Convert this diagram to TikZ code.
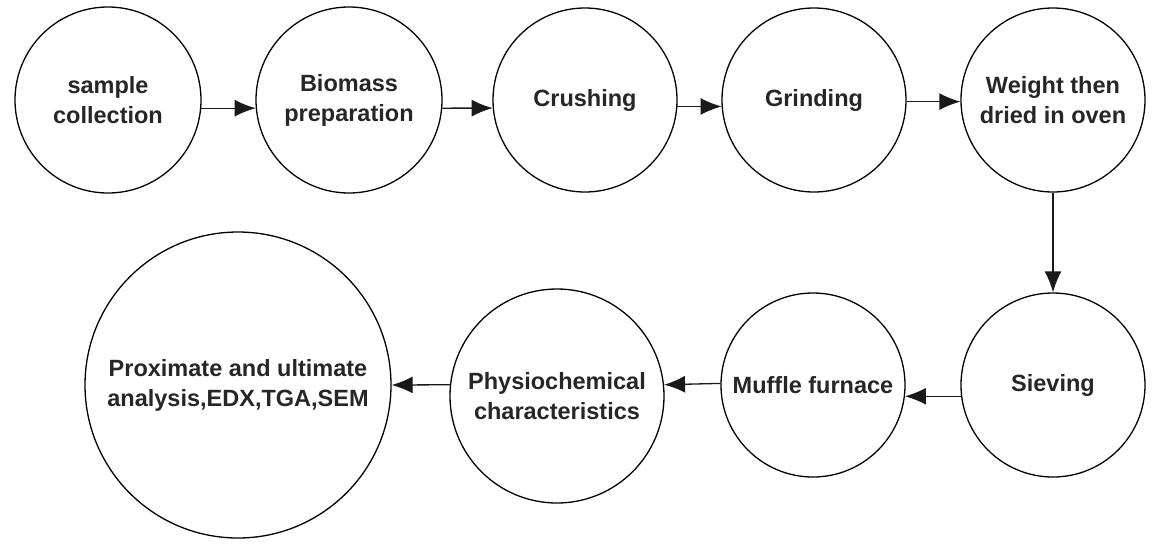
\documentclass[tikz,border=0pt]{standalone}
\usepackage{fontspec}
\setmainfont{Liberation Sans}
\usepackage{tikz}
\usetikzlibrary{arrows.meta}
\tikzset{
  stepcircle/.style={draw=black, line width=1.3pt, circle, inner sep=0pt, align=center, font=\fontsize{23.5}{30}\selectfont\bfseries, text=black!85},
  steparrow/.style={draw=black!90, line width=1.3pt, -{Latex[length=21pt, width=17pt]}}
}

\begin{document}
\begin{tikzpicture}[x=1pt, y=1pt]
\useasboundingbox (0,0) rectangle (1157,-547);
% top row
\node [stepcircle, minimum size=186pt] (collect) at (108,-100) {sample\\collection};
\node [stepcircle, minimum size=186pt] (prep) at (349,-100) {Biomass\\preparation};
\node [stepcircle, minimum size=184pt] (crush) at (585,-100) {Crushing};
\node [stepcircle, minimum size=184pt] (grind) at (814,-100) {Grinding};
\node [stepcircle, minimum size=184pt] (dry) at (1053,-100) {Weight then\\dried in oven};
% bottom row
\node [stepcircle, minimum size=184pt] (sieve) at (1053,-385) {Sieving};
\node [stepcircle, minimum size=184pt] (muffle) at (813,-385) {Muffle furnace};
\node [stepcircle, minimum size=214pt] (physio) at (557,-396) {Physiochemical\\characteristics};
\node [stepcircle, minimum size=306pt] (analysis) at (238,-385) {Proximate and ultimate\\analysis,EDX,TGA,SEM};

\draw [steparrow] (collect.-5) -- (prep.-175);
\draw [steparrow] (prep.-5) -- (crush.-175);
\draw [steparrow] (crush.-4) -- (grind.-176);
\draw [steparrow] (grind.-1) -- (dry.-179);
\draw [steparrow] (dry.south) -- (sieve.north);
\draw [steparrow] (sieve.-173) -- (muffle.-7);
\draw [steparrow] (muffle.179) -- (physio.6);
\draw [steparrow] (physio.174) -- (analysis.0);
\end{tikzpicture}
\end{document}
